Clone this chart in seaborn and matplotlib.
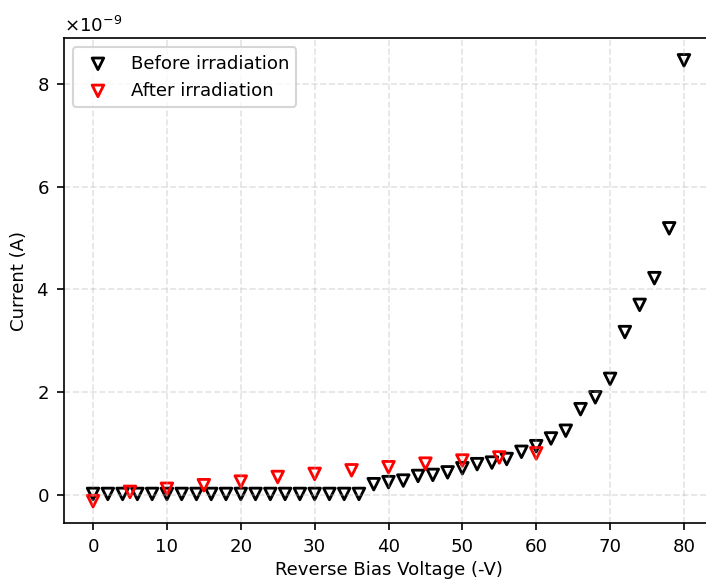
import matplotlib
matplotlib.use("Agg")
import matplotlib.pyplot as plt
import seaborn as sns
import numpy as np

# reverse bias voltage (V) and leakage current (nA)
before_v = list(range(0, 82, 2))
before_i = [0.02, 0.02, 0.02, 0.02, 0.02, 0.02, 0.02, 0.02, 0.02, 0.02,
            0.02, 0.02, 0.02, 0.02, 0.02, 0.02, 0.02, 0.02, 0.02,
            0.21, 0.25, 0.28, 0.37, 0.39, 0.44, 0.52, 0.60, 0.63, 0.70,
            0.84, 0.95, 1.10, 1.25, 1.67, 1.90, 2.26, 3.17, 3.70, 4.22,
            5.19, 8.46]

after_v = list(range(0, 65, 5))
after_i = [-0.12, 0.06, 0.12, 0.19, 0.26, 0.35, 0.41, 0.48, 0.54,
           0.61, 0.67, 0.73, 0.81]

plt.rcParams["font.size"] = 8.7

fig = plt.figure(figsize=(706 / 150, 579 / 150), dpi=150)
ax = fig.add_axes([63.5 / 706, 0.0964, 650 / 706, 0.8375])

sns.scatterplot(x=before_v, y=np.array(before_i) * 1e-9, marker="v",
                facecolor="none", edgecolor="black", linewidth=1.35,
                s=31, label="Before irradiation", ax=ax)
sns.scatterplot(x=after_v, y=np.array(after_i) * 1e-9, marker="v",
                facecolor="none", edgecolor="red", linewidth=1.35,
                s=31, label="After irradiation", ax=ax)

ax.ticklabel_format(axis="y", style="sci", scilimits=(0, 0), useMathText=True)
ax.set_xlabel("Reverse Bias Voltage (-V)", labelpad=2.5)
ax.set_ylabel("Current (A)")
ax.grid(True, linestyle="--", alpha=0.35)
ax.legend(loc="upper left")

fig.savefig("out.png", dpi=150)
